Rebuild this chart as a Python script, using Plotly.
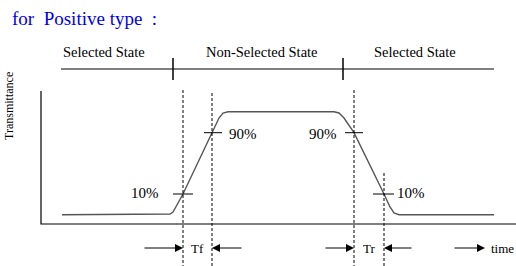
import plotly.graph_objects as go

# ---- data (time units along x, transmittance units along y) ----
curve_time = [21, 124, 129, 132, 142, 171, 178, 182, 187, 293, 298, 303, 313, 343, 349, 353, 358, 453]
curve_trans = [9.3, 9.3, 10.0, 12, 30, 91.3, 106, 111, 112.3, 112.3, 111, 106, 91.3, 30, 17, 11, 9.3, 9.3]

level_10 = 30
level_90 = 91.3
t_10_fall_edge = 142   # 10% crossing, Selected -> Non-Selected
t_90_fall_edge = 171   # 90% crossing
t_90_rise_edge = 313
t_10_rise_edge = 343

pct_labels = ["10%", "90%", "90%", "10%"]
state_labels = ["Selected State", "Non-Selected State", "Selected State"]
state_bounds = [20, 132, 302, 453]
time_labels = ["Tf", "Tr"]

axis_top = 133
axis_right = 475
state_level = 155
dash_bottom = -42
fig = go.Figure()

black = "#000000"

def line(xs, ys, width=1, dash=None, color=black):
    fig.add_trace(go.Scatter(x=xs, y=ys, mode="lines", hoverinfo="skip",
                             line=dict(color=color, width=width, dash=dash)))

# axes
line([0, 0, axis_right], [axis_top, 0, 0], width=1.2)
# state bar
line([state_bounds[0], state_bounds[-1]], [state_level, state_level], width=1.2)
for b in state_bounds[1:3]:
    line([b, b], [state_level + 11, state_level - 11], width=1.5)
# curve
line(curve_time, curve_trans, width=1.4, color="#555555")
# dashed guides
line([t_10_fall_edge, t_10_fall_edge], [134, dash_bottom], dash="3px,2px")
line([t_90_fall_edge, t_90_fall_edge], [131, dash_bottom], dash="3px,2px")
line([t_90_rise_edge, t_90_rise_edge], [134, dash_bottom], dash="3px,2px")
line([t_10_rise_edge, t_10_rise_edge], [51, dash_bottom], dash="3px,2px")
# level ticks
line([t_10_fall_edge - 10, t_10_fall_edge + 10], [level_10, level_10])
line([t_90_fall_edge - 8, t_90_fall_edge + 10], [level_90, level_90])
line([t_90_rise_edge - 9, t_90_rise_edge + 9], [level_90, level_90])
line([t_10_rise_edge - 11, t_10_rise_edge + 10], [level_10, level_10])

serif = "Liberation Serif"
ann = []
# title
ann.append(dict(x=-31, y=206, text="for  Positive type  :", showarrow=False, xanchor="left",
                font=dict(family=serif, size=19, color="#0000F0")))
# y label
ann.append(dict(x=-32, y=118, text="Transmittance", showarrow=False, textangle=-90,
                font=dict(family=serif, size=12, color=black)))
# state labels
for lab, xc in zip(state_labels, [63, 221, 374]):
    ann.append(dict(x=xc, y=172, text=lab, showarrow=False,
                    font=dict(family=serif, size=14.5, color=black)))
# percent labels
ann.append(dict(x=t_10_fall_edge - 22, y=level_10 + 1, text=pct_labels[0], showarrow=False, xanchor="right",
                font=dict(family=serif, size=15, color=black)))
ann.append(dict(x=t_90_fall_edge + 15, y=level_90 - 1, text=pct_labels[1], showarrow=False, xanchor="left",
                font=dict(family=serif, size=15, color=black)))
ann.append(dict(x=t_90_rise_edge - 15, y=level_90 - 1, text=pct_labels[2], showarrow=False, xanchor="right",
                font=dict(family=serif, size=15, color=black)))
ann.append(dict(x=t_10_rise_edge + 11, y=level_10 + 1, text=pct_labels[3], showarrow=False, xanchor="left",
                font=dict(family=serif, size=15, color=black)))
# time labels
arrow_y = -24
ann.append(dict(x=(t_10_fall_edge + t_90_fall_edge) / 2, y=arrow_y, text=time_labels[0], showarrow=False,
                font=dict(family=serif, size=13, color=black)))
ann.append(dict(x=(t_90_rise_edge + t_10_rise_edge) / 2, y=arrow_y, text=time_labels[1], showarrow=False,
                font=dict(family=serif, size=13, color=black)))
ann.append(dict(x=448, y=arrow_y, text="time", showarrow=False, xanchor="left",
                font=dict(family=serif, size=13, color=black)))

# arrows
def arrow(x_head, x_tail):
    ann.append(dict(x=x_head, y=arrow_y, ax=x_tail, ay=arrow_y, axref="x", ayref="y",
                    xref="x", yref="y", text="", showarrow=True, arrowhead=2,
                    arrowsize=1.6, arrowwidth=1, arrowcolor=black))

arrow(t_10_fall_edge, 102)
arrow(t_90_fall_edge, 202)
arrow(t_90_rise_edge, 283)
arrow(t_10_rise_edge, 372)
arrow(444, 412)

fig.update_layout(
    width=516, height=266, margin=dict(l=0, r=0, t=0, b=0),
    paper_bgcolor="white", plot_bgcolor="white", showlegend=False,
    xaxis=dict(range=[-41, 475], visible=False, fixedrange=True),
    yaxis=dict(range=[-42, 224], visible=False, fixedrange=True),
    annotations=ann,
)
fig.write_html("out.html", config={"displayModeBar": False},
               post_script="document.body.style.margin='0';document.body.style.overflow='hidden';")
